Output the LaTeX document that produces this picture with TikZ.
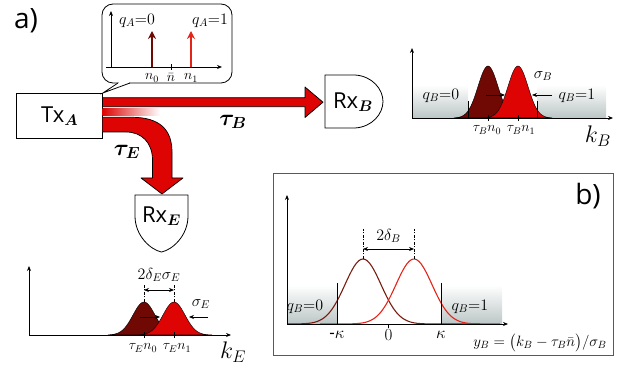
\RequirePackage{fix-cm}
\documentclass[tikz,border=0pt]{standalone}
\usepackage{amsmath,amssymb}
\usepackage{bm}
\usepackage{fontspec}
\setmainfont{Open Sans}
\usepackage{xcolor}
\usepackage{tikz}
\usetikzlibrary{arrows.meta,positioning}
\definecolor{dred}{RGB}{112,8,4}
\definecolor{fred}{RGB}{222,4,4}
\definecolor{lred}{RGB}{228,36,24}
\definecolor{cdred}{RGB}{120,28,16}
\definecolor{sgray}{RGB}{188,198,198}

\begin{document}
\begin{tikzpicture}[x=1pt, y=-1pt, >={Stealth[length=5pt,width=4pt]},
  every node/.style={inner sep=1pt},
  fat/.style={draw=black, fill=fred, line width=0.7pt, line join=round},
  rxshape/.style={draw=black, fill=white, line width=0.8pt},
  gauss/.style={draw=black, line width=0.4pt},
  region/.style={top color=white, bottom color=sgray},
  bound/.style={line width=1pt},
  ax/.style={line width=0.8pt, ->},
  spike/.style={line width=1.7pt, -{Stealth[length=8pt,width=8pt]}},
  guide/.style={line width=0.6pt, dash pattern=on 3pt off 1.5pt on 1pt off 1.5pt},
  lab/.style={font=\fontsize{14}{14}\selectfont},
  qlab/.style={font=\fontsize{16}{16}\selectfont},
  klab/.style={font=\fontsize{24}{24}\selectfont},
  big/.style={font=\fontsize{28}{30}\selectfont}]
\useasboundingbox (0,0) rectangle (622,366);

% panel labels
\node[big] (la) at (26,21) {a)};

% transmitter
\node[draw, line width=0.8pt, minimum width=86pt, minimum height=45pt,
  font=\fontsize{22}{24}\selectfont] (tx) at (59.7,115.8) {Tx$_{\bm{A}}$};

% callout with the two symbols
\draw[line width=0.8pt, rounded corners=11pt, fill=white] (102,4) rectangle (232,83);
\fill[white] (118.6,81.5) rectangle (129.4,84.5);
\draw[line width=0.8pt, fill=white] (118,83) -- (tx.north east) -- (130,83);
\coordinate (o) at (111,67);
\draw[ax] (o) -- (111,11);
\draw[ax] (106,67) -- (222,67);
\draw[spike, draw=dred] (152,67) -- (152,31);
\draw[spike, draw=lred] (191,67) -- (191,31);
\draw[line width=0.6pt] (171,64) -- (171,70);
\foreach \x/\t in {152/$n_0$,171/$\bar n$,191/$n_1$}{\node[lab] at (\x,78) {\t};}
\node[qlab] (qa0) at (137,21) {$q_{A}{=}0$};
\node[qlab] (qa1) at (210,21) {$q_{A}{=}1$};

% receivers
\node[font=\fontsize{22}{24}\selectfont] (rxb) at (353,102) {};
\draw[rxshape] (325,75) -- (355,75) .. controls (372,76) and (383,89) .. (383,101.5)
  .. controls (383,114) and (372,127) .. (355,128) -- (325,128) -- cycle;
\node[font=\fontsize{22}{24}\selectfont] at (rxb) {Rx$_{\bm{B}}$};
\draw[rxshape] (135,195) -- (188,195) -- (188,216) .. controls (188,236) and (172,250) .. (161.5,252)
  .. controls (151,250) and (135,236) .. (135,216) -- cycle;
\node[font=\fontsize{22}{24}\selectfont] (rxe) at (161.5,216) {Rx$_{\bm{E}}$};

% channels
\draw[fat] (tx.east |- 0,97.7) -- (305,97.7) -- (305,87) -- (323,102.2)
  -- (305,117.5) -- (305,106.7) -- (tx.east |- 0,106.7);
\shade[left color=fred, right color=white] (102.7,109) rectangle (160,115.7);
\draw[fat] (102.7,117.3) -- (132,117.3) .. controls (160,117.3) and (172,130) .. (172,152) -- (172,178)
  -- (183,178) -- (162,194) -- (141,178) -- (152.5,178) -- (152.5,160)
  .. controls (152.5,143) and (142,132) .. (126,132) -- (102.7,132);
\node[font=\fontsize{23}{23}\selectfont] (tb) at (233,122) {$\bm{\tau_B}$};
\node[font=\fontsize{23}{23}\selectfont] (te) at (127,152) {$\bm{\tau_E}$};

% distribution at B
\fill[region] (412,85) rectangle (468,118);
\fill[region] (537,85) rectangle (606,118);
\draw[gauss, fill=dred] plot[domain=454:522, samples=60] (\x,{118-52*exp(-((\x-488)/10)^2/2)}) -- cycle;
\draw[gauss, fill=fred] plot[domain=484:552, samples=60] (\x,{118-52*exp(-((\x-518)/10)^2/2)}) -- cycle;
\foreach \x in {468,537}{\draw[bound] (\x,101) -- (\x,118);}
\foreach \x in {488,518}{\draw[line width=0.5pt] (\x,115) -- (\x,121);}
\draw[ax] (412,118) -- (412,48);
\draw[ax] (412,118) -- (613,118);
\draw[line width=0.7pt, ->] (486,95) -- (505,95);
\draw[line width=0.7pt, ->] (552,95) -- (532,95);
\node[lab] at (487,130) {$\tau_{B}n_0$};
\node[lab] at (521,130) {$\tau_{B}n_1$};
\node[qlab] (qb0) at (441,96) {$q_{B}{=}0$};
\node[qlab] (qb1) at (577,96) {$q_{B}{=}1$};
\node[qlab] (sb) at (543,76) {$\sigma_{B}$};
\node[klab] (kb) at (598,136) {$k_B$};

% distribution at E
\draw[gauss, fill=dred] plot[domain=108:180, samples=60] (\x,{335-33*exp(-((\x-144)/11)^2/2)}) -- cycle;
\draw[gauss, fill=fred] plot[domain=138:212, samples=60] (\x,{335-33*exp(-((\x-174)/11)^2/2)}) -- cycle;
\foreach \x in {144,174}{
  \draw[line width=0.5pt] (\x,332) -- (\x,338);
  \draw[guide] (\x,302) -- (\x,284);
}
\draw[line width=0.7pt, <->] (144,290) -- (174,290);
\draw[ax] (29,335) -- (29,266);
\draw[ax] (29,335) -- (231,335);
\draw[line width=0.7pt, ->] (140,317) -- (160,317);
\draw[line width=0.7pt, ->] (208,317) -- (189,317);
\node[lab] at (143,348) {$\tau_{E}n_0$};
\node[lab] at (177,348) {$\tau_{E}n_1$};
\node[qlab] (de) at (159,275) {$2\delta_{E}\sigma_{E}$};
\node[qlab] (se) at (201,304) {$\sigma_{E}$};
\node[klab] (ke) at (233,352) {$k_E$};

% panel b)
\draw[line width=0.9pt, draw=black!65] (273,173) rectangle (613,355);
\node[big] (lb) at (588,196) {b)};
\fill[region] (287,285) rectangle (337,324);
\fill[region] (441,285) rectangle (502,324);
\draw[line width=1.1pt, cdred] plot[domain=287:480, samples=90] (\x,{324-65*exp(-((\x-363)/18)^2/2)});
\draw[line width=1.1pt, lred] plot[domain=320:500, samples=90] (\x,{324-65*exp(-((\x-414)/18)^2/2)});
\foreach \x in {337,441}{\draw[bound] (\x,283) -- (\x,324);}
\draw[line width=0.6pt] (388.5,324) -- (388.5,328);
\foreach \x in {363,414}{\draw[guide] (\x,259) -- (\x,229);}
\draw[line width=0.7pt, <->] (363,249) -- (414,249);
\node[qlab] (db) at (388.5,236) {$2\delta_{B}$};
\draw[ax] (287,324) -- (287,195);
\draw[ax] (287,324) -- (508,324);
\node[qlab] (q0) at (305,307) {$q_{B}{=}0$};
\node[qlab] (q1) at (470,307) {$q_{B}{=}1$};
\foreach \x/\t in {337/-$\kappa$,388.5/$0$,441/$\kappa$}{\node[font=\fontsize{17}{17}\selectfont] at (\x,335) {\t};}
\node[font=\fontsize{15}{15}\selectfont] (yb) at (540,343) {$y_{B} = \big(k_{B}-\tau_{B}\bar n\big)/\sigma_{B}$};
\end{tikzpicture}
\end{document}
